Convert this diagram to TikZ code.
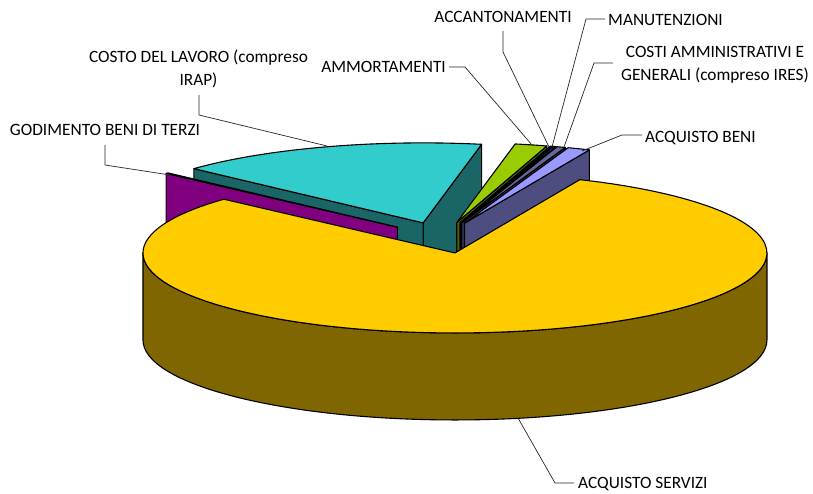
\documentclass[tikz,border=0pt]{standalone}
\usepackage{fontspec}
\setmainfont{Carlito}
\definecolor{ylwTop}{HTML}{FFCC00}
\definecolor{ylwSide}{HTML}{806600}
\definecolor{cyTop}{HTML}{33CCCC}
\definecolor{cySide}{HTML}{1A6666}
\definecolor{puTop}{HTML}{800080}
\definecolor{puSide}{HTML}{800080}
\definecolor{grTop}{HTML}{99CC00}
\definecolor{grSide}{HTML}{4D6600}
\definecolor{acTop}{HTML}{003366}
\definecolor{acSide}{HTML}{001A33}
\definecolor{maTop}{HTML}{0066CC}
\definecolor{maSide}{HTML}{003366}
\definecolor{coTop}{HTML}{666699}
\definecolor{coSide}{HTML}{33334D}
\definecolor{abTop}{HTML}{9999FF}
\definecolor{abSide}{HTML}{4D4D80}
% apex of an exploded slice spanning #1..#2 degrees
\newcommand\slApex[2]{%
  \pgfmathsetmacro\ax{442.2+60.84*cos((#1+#2)/2)}%
  \pgfmathsetmacro\ay{255.3+15.6*sin((#1+#2)/2)}%
}
% radial cut face at angle #1, colour #2
\newcommand\slRad[2]{%
  \filldraw[pieedge, fill=#2] (\ax,\ay) -- ++(#1:312 and 80) -- ++(0,-87)
     -- ++({#1+180}:312 and 80) -- cycle;}
% top face from #1 to #2, colour #3
\newcommand\slTop[3]{%
  \filldraw[pieedge, fill=#3] (\ax,\ay) -- ++(#1:312 and 80)
     arc[start angle=#1, end angle=#2, x radius=312, y radius=80] -- cycle;}
\begin{document}
\begin{tikzpicture}[x=1pt,y=1pt,
  pieedge/.style={draw=black,line width=1.1pt,line join=round},
  leader/.style={draw=black!85,line width=0.7pt},
  lbl/.style={inner sep=0pt,font=\fontsize{17.3}{23}\selectfont}]
\useasboundingbox (0,0) rectangle (813,493);
% COSTO DEL LAVORO (cyan)
\slApex{79.2}{137.3}
\slRad{79.2}{cySide}
\slRad{137.3}{cySide}
\slTop{79.2}{137.3}{cyTop}
% GODIMENTO BENI DI TERZI (purple)
\slApex{137.3}{137.8}
\slRad{137.8}{puSide}
\slTop{137.3}{137.8}{puTop}
% AMMORTAMENTI (green)
\slApex{73.2}{79.2}
\slRad{73.2}{grSide}
\slTop{73.2}{79.2}{grTop}
% ACCANTONAMENTI
\slApex{72.7}{73.2}
\slRad{72.7}{acSide}
\slTop{72.7}{73.2}{acTop}
% MANUTENZIONI
\slApex{72.2}{72.7}
\slRad{72.2}{maSide}
\slTop{72.2}{72.7}{maTop}
% COSTI AMMINISTRATIVI
\slApex{70.6}{72.2}
\slRad{70.6}{coSide}
\slTop{70.6}{72.2}{coTop}
% ACQUISTO BENI
\slApex{66.4}{70.6}
\slRad{66.4}{abSide}
\slTop{66.4}{70.6}{abTop}
% ACQUISTO SERVIZI (yellow)
\slApex{137.8}{426.4}
\filldraw[pieedge, fill=ylwSide] (\ax,\ay) ++(180:312 and 80)
   arc[start angle=180, end angle=360, x radius=312, y radius=80] -- ++(0,-87)
   arc[start angle=360, end angle=180, x radius=312, y radius=80] -- cycle;
\slTop{137.8}{426.4}{ylwTop}

% labels
\node[lbl, align=center] (lavoro) at (198.5,424.5) {COSTO DEL LAVORO (compreso\\IRAP)};
\node[lbl, anchor=base] (godimento) at (105,357.4) {GODIMENTO BENI DI TERZI};
\node[lbl, anchor=base east] (ammort) at (446,420.4) {AMMORTAMENTI};
\node[lbl, anchor=base] (accant) at (503,470.7) {ACCANTONAMENTI};
\node[lbl, anchor=base west] (manut) at (608,467.4) {MANUTENZIONI};
\node[lbl, align=center] (costi) at (715,428.5) {COSTI AMMINISTRATIVI E\\GENERALI (compreso IRES)};
\node[lbl, anchor=base west] (acqbeni) at (645,350) {ACQUISTO BENI};
\node[lbl, anchor=base west] (acqserv) at (578,4.5) {ACQUISTO SERVIZI};

% leader end points
\coordinate (lavA) at (199,398);   \coordinate (lavE) at (327,347);
\coordinate (godA) at (105,348);   \coordinate (godE) at (170,318);
\coordinate (ammA) at (449,426);   \coordinate (ammE) at (532,348);
\coordinate (accA) at (503,462);   \coordinate (accE) at (549,346);
\coordinate (manA) at (605,474);   \coordinate (manE) at (552,346);
\coordinate (cosA) at (613,430);   \coordinate (cosE) at (564,346);
\coordinate (abA)  at (642,358);   \coordinate (abE)  at (582,342);
\coordinate (asA)  at (574,10);    \coordinate (asE)  at (518,75);

\draw[leader] (lavA) -- (199,378) -- (lavE);
\draw[leader] (godA) -- (105,328) -- (godE);
\draw[leader] (ammA) -- (465,426) -- (ammE);
\draw[leader] (accA) -- (503,441) -- (accE);
\draw[leader] (manA) -- (586,474) -- (manE);
\draw[leader] (cosA) -- (594,430) -- (cosE);
\draw[leader] (abA) -- (622,358) -- (abE);
\draw[leader] (asA) -- (555,10) -- (asE);
\end{tikzpicture}
\end{document}
